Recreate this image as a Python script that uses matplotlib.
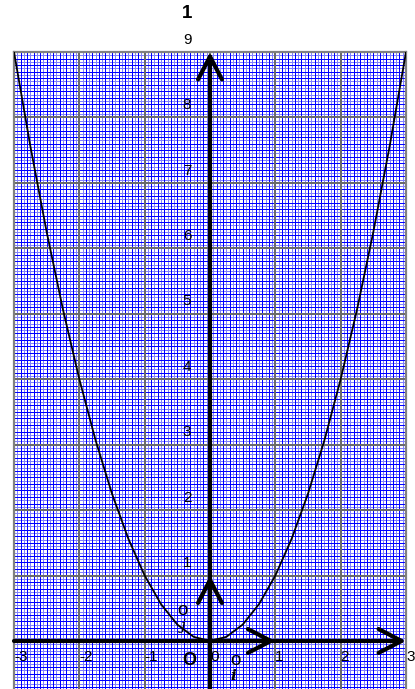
import numpy as np
import matplotlib
matplotlib.use("Agg")
import matplotlib.pyplot as plt

plt.rcParams['font.family'] = ['Liberation Sans', 'DejaVu Sans']

# curve points (parabola through the origin)
curve_x = [-3.0, -2.75, -2.5, -2.25, -2.0, -1.75, -1.5, -1.25, -1.0, -0.75, -0.5, -0.25, 0.0,
           0.25, 0.5, 0.75, 1.0, 1.25, 1.5, 1.75, 2.0, 2.25, 2.5, 2.75, 3.0]
curve_y = [9.0, 7.5625, 6.25, 5.0625, 4.0, 3.0625, 2.25, 1.5625, 1.0, 0.5625, 0.25, 0.0625, 0.0,
           0.0625, 0.25, 0.5625, 1.0, 1.5625, 2.25, 3.0625, 4.0, 5.0625, 6.25, 7.5625, 9.0]

x_ticks = [-3, -2, -1, 0, 1, 2, 3]
x_tick_labels = ['-3', '-2', '-1', '0', '1', '2', '3']
y_ticks = [1, 2, 3, 4, 5, 6, 7, 8, 9]
y_tick_labels = ['1', '2', '3', '4', '5', '6', '7', '8', '9']

title = '1'
xmin, xmax, ymin, ymax = -3, 3, -0.734, 9

fig = plt.figure(figsize=(4.15, 6.89), dpi=100)
ax = fig.add_axes([14 / 415, 0, 392 / 415, 637 / 689])
ax.set_xlim(xmin, xmax)
ax.set_ylim(ymin, ymax)
ax.set_xticks([])
ax.set_yticks([])

px = 0.72  # one pixel in points

# fine grid: blue every 0.1, light blue in between
for v in np.arange(-3, 3.001, 0.05):
    k = int(round(v * 20))
    if k % 20 == 0:
        continue
    if k % 2 == 0:
        ax.axvline(v, color='#0000ff', lw=px, antialiased=False, zorder=1)
    else:
        ax.axvline(v, color='#8080ff', lw=px, antialiased=False, zorder=0.9)
for v in np.arange(-0.7, 9.001, 0.05):
    k = int(round(v * 20))
    if k % 20 == 0:
        continue
    if k % 2 == 0:
        ax.axhline(v, color='#0000ff', lw=px, antialiased=False, zorder=1)
    else:
        ax.axhline(v, color='#8080ff', lw=px, antialiased=False, zorder=0.9)
# unit grid
for v in x_ticks[1:-1]:
    ax.axvline(v, color='#6a6a6a', lw=2 * px, antialiased=False, zorder=1.2)
for v in y_ticks[:-1]:
    ax.axhline(v, color='#6a6a6a', lw=2 * px, antialiased=False, zorder=1.2)

for s in ['left', 'right', 'top']:
    ax.spines[s].set_color('#808080')
    ax.spines[s].set_linewidth(1.6)
ax.spines['bottom'].set_visible(False)

# curve
ax.plot(curve_x, curve_y, color='black', lw=1.3, zorder=3)

# axes with arrow heads
arrow = dict(arrowstyle='->,head_length=1.65,head_width=0.86', color='black', lw=3,
             shrinkA=0, shrinkB=0, mutation_scale=10)
ax.annotate('', xy=(xmax, 0), xytext=(xmin, 0), arrowprops=arrow, zorder=4, annotation_clip=False)
ax.annotate('', xy=(0, ymax), xytext=(0, ymin), arrowprops=arrow, zorder=4, annotation_clip=False)
# unit vectors i and j
ax.annotate('', xy=(1, 0), xytext=(0, 0), arrowprops=arrow, zorder=4)
ax.annotate('', xy=(0, 1), xytext=(0, 0), arrowprops=arrow, zorder=4)

# tick labels
for v, lab in zip(x_ticks, x_tick_labels):
    ax.annotate(lab, (v, 0), xytext=(0, -6.5), textcoords='offset points',
                ha='left', va='top', fontsize=11, zorder=5, annotation_clip=False)
for v, lab in zip(y_ticks, y_tick_labels):
    ax.annotate(lab, (0, v), xytext=(-16.5, 3.8), textcoords='offset points',
                ha='center', va='bottom', fontsize=11, zorder=5, annotation_clip=False)

fig.text(187 / 415, 1 - 13 / 689, title, ha='center', va='center',
         fontsize=13.5, fontweight='bold')

# origin and vector names
ax.annotate('O', (0, 0), xytext=(-15, -14), textcoords='offset points',
            ha='center', va='center', fontsize=13, fontweight='bold', zorder=5)
ax.annotate('o', (0, 0), xytext=(18, -17.3), textcoords='offset points',
            ha='center', va='baseline', fontsize=13.5, zorder=5)
ax.annotate('i', (0, 0), xytext=(16.5, -20.5), textcoords='offset points',
            ha='center', va='top', fontsize=11, style='italic', fontweight='bold',
            family='DejaVu Serif', zorder=5)
ax.annotate('o', (0, 0), xytext=(-20, 18.7), textcoords='offset points',
            ha='center', va='baseline', fontsize=13.5, zorder=5)
ax.annotate('j', (0, 0), xytext=(-19.5, 15.8), textcoords='offset points',
            ha='center', va='top', fontsize=11, style='italic',
            family='DejaVu Serif', zorder=5)

fig.savefig('out.png', dpi=100)
